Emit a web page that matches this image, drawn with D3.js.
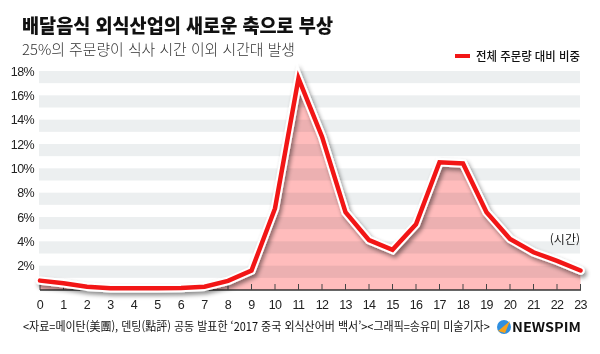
<!DOCTYPE html>
<html lang="ko">
<head>
<meta charset="UTF-8">
<title>배달음식 외식산업의 새로운 축으로 부상</title>
<script src="https://d3js.org/d3.v7.min.js"></script>
<style>
body { margin:0; background:#fff; }
text { font-family: "Noto Sans CJK KR", "Noto Sans", sans-serif; }
.num { font-family: "Liberation Sans", "Noto Sans", sans-serif; font-size: 12.5px; fill:#222; letter-spacing:-0.6px; }
</style>
</head>
<body>
<div id="chart"></div>
<script>
// 시간대별 주문량 비중 (%)
const hours = ["0","1","2","3","4","5","6","7","8","9","10","11","12","13","14","15","16","17","18","19","20","21","22","23"];
const share = [0.77,0.55,0.27,0.15,0.15,0.15,0.17,0.27,0.75,1.6,6.7,17.4,12.6,6.4,4.1,3.3,5.4,10.5,10.4,6.4,4.2,3.1,2.4,1.6];
const yTicks = [2,4,6,8,10,12,14,16,18];

const width = 600, height = 354;
const red = "#f21616";

const svg = d3.select("#chart").append("svg")
    .attr("width", width)
    .attr("height", height);

const defs = svg.append("defs");
const shadow = defs.append("filter").attr("id", "shadow")
    .attr("x", "-10%").attr("y", "-10%").attr("width", "130%").attr("height", "130%");
shadow.append("feDropShadow")
    .attr("dx", 2).attr("dy", 3).attr("stdDeviation", 2.2)
    .attr("flood-color", "#000").attr("flood-opacity", 0.45);

const x = d3.scaleLinear().domain([0, 23]).range([40, 580.5]);
const y = d3.scaleLinear().domain([0, 18]).range([290, 71]);

// title
svg.append("text")
    .attr("x", 22).attr("y", 33)
    .attr("font-size", 19).attr("font-weight", 900).attr("fill", "#111")
    .attr("textLength", 311).attr("lengthAdjust", "spacingAndGlyphs")
    .text("배달음식 외식산업의 새로운 축으로 부상");

svg.append("text")
    .attr("x", 22).attr("y", 55)
    .attr("font-size", 14.5).attr("font-weight", 300).attr("fill", "#333")
    .attr("textLength", 273).attr("lengthAdjust", "spacingAndGlyphs")
    .text("25%의 주문량이 식사 시간 이외 시간대 발생");

// legend
svg.append("line")
    .attr("x1", 455).attr("x2", 470).attr("y1", 56).attr("y2", 56)
    .attr("stroke", red).attr("stroke-width", 4);
svg.append("text")
    .attr("x", 476).attr("y", 60.5)
    .attr("font-size", 12).attr("font-weight", 500).attr("fill", "#111")
    .attr("textLength", 104).attr("lengthAdjust", "spacingAndGlyphs")
    .text("전체 주문량 대비 비중");

// grid bands
svg.append("g").selectAll("rect")
    .data(yTicks)
    .join("rect")
    .attr("x", 39)
    .attr("width", 541)
    .attr("y", d => y(d))
    .attr("height", d => y(d - 1) - y(d))
    .attr("fill", "#eceff0");

// y labels
svg.append("g").selectAll("text")
    .data(yTicks)
    .join("text")
    .attr("class", "num")
    .attr("x", 34)
    .attr("y", d => y(d))
    .attr("dy", "0.36em")
    .attr("text-anchor", "end")
    .text(d => d + "%");

// area
const area = d3.area()
    .x((d, i) => x(i))
    .y0(y(0))
    .y1(d => y(d));

svg.append("path")
    .datum(share)
    .attr("d", area)
    .attr("fill", "#ffbcbc")
    .style("mix-blend-mode", "multiply");

// axis
const axis = svg.append("g");
axis.append("line")
    .attr("x1", 40).attr("x2", 581).attr("y1", 290).attr("y2", 290)
    .attr("stroke", "#333").attr("stroke-width", 1.5);
axis.selectAll("line.tick")
    .data(hours)
    .join("line")
    .attr("class", "tick")
    .attr("x1", (d, i) => x(i)).attr("x2", (d, i) => x(i))
    .attr("y1", 284).attr("y2", 290)
    .attr("stroke", "#444").attr("stroke-width", 1);
axis.selectAll("text")
    .data(hours)
    .join("text")
    .attr("class", "num")
    .attr("x", (d, i) => x(i))
    .attr("y", 309)
    .attr("text-anchor", "middle")
    .text(d => d);

// line
const line = d3.line()
    .x((d, i) => x(i))
    .y(d => y(d));

svg.append("path")
    .datum(share)
    .attr("d", line)
    .attr("fill", "none")
    .attr("stroke", "#fff")
    .attr("stroke-width", 8.5)
    .attr("stroke-linejoin", "miter")
    .attr("stroke-linecap", "round")
    .attr("filter", "url(#shadow)");

svg.append("path")
    .datum(share)
    .attr("d", line)
    .attr("fill", "none")
    .attr("stroke", red)
    .attr("stroke-width", 4.5)
    .attr("stroke-linejoin", "miter")
    .attr("stroke-linecap", "round");

svg.append("text")
    .attr("x", 580).attr("y", 244)
    .attr("text-anchor", "end")
    .attr("font-size", 12).attr("fill", "#222")
    .text("(시간)");

// source (squeezed horizontally to fit before the logo)
const src = svg.append("g");
const srcText = src.append("text")
    .attr("font-size", 12).attr("fill", "#111")
    .text("<자료=메이탄(美團), 덴팅(點評) 공동 발표한 ‘2017 중국 외식산어버 백서’><그래픽=송유미 미술기자>");
const srcW = srcText.node().getComputedTextLength();
src.attr("transform", `translate(23,331) scale(${Math.min(1, 467 / srcW)},1)`);

// logo
const logo = svg.append("g").attr("transform", "translate(504,327)");
logo.append("circle").attr("r", 7).attr("fill", "#2f8fe0");
logo.append("path")
    .attr("d", "M-6,4 L6,-6 L1,6 Z")
    .attr("fill", "#f7a21b");
svg.append("text")
    .attr("x", 512).attr("y", 332)
    .attr("font-family", "'Liberation Sans', sans-serif")
    .attr("font-size", 13).attr("font-weight", 700).attr("fill", "#111")
    .attr("textLength", 69).attr("lengthAdjust", "spacingAndGlyphs")
    .text("NEWSPIM");
</script>
</body>
</html>
